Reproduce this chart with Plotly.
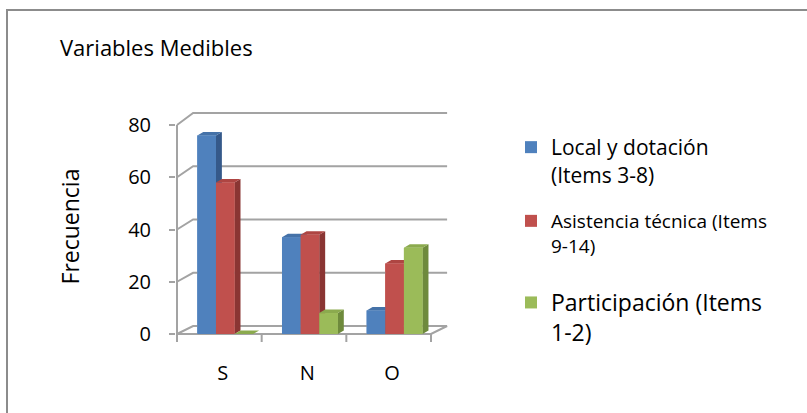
import plotly.graph_objects as go

# ---------------- data ----------------
categories = ["S", "N", "O"]
series_names = [
    "Local y dotación<br>(Items 3-8)",
    "Asistencia técnica (Items<br>9-14)",
    "Participación (Items<br>1-2)",
]
local_dotacion = [76, 37, 9]
asistencia_tecnica = [58, 38, 27]
participacion = [0, 8, 33]
y_ticks = [0, 20, 40, 60, 80]

series_values = [local_dotacion, asistencia_tecnica, participacion]

# ---------------- style ----------------
FONT = "Open Sans"
colors_front = ["#4F81BD", "#C0504D", "#9BBB59"]
colors_side = ["#35598A", "#8A3533", "#6E8A3C"]
colors_top = ["#4572A8", "#AE4542", "#8BAA4E"]
GRID = "#a3a3a3"

# geometry (pixel layout of the 807x413 canvas)
W_PX, H_PX = 807, 413
PL, PT, PR, PB = 176, 110, 450, 343      # plot area edges in px
PX_PER_X = 84.67                         # px per category unit
PX_PER_Y = 2.6125                        # px per value unit
FRONT_LEFT_PX = 177
FLOOR_PX = 334

x_min = -0.5 - (FRONT_LEFT_PX - PL) / PX_PER_X
x_max = -0.5 + (PR - FRONT_LEFT_PX) / PX_PER_X
y_min = -(PB - FLOOR_PX) / PX_PER_Y
y_max = (FLOOR_PX - PT) / PX_PER_Y

BAR_W = 0.22
GROUP_SHIFT = 0.07
SIDE_DX = 0.07
SIDE_DY = 1.35
WALL_DX = 0.19
TICK_DOWN = 8 / PX_PER_Y


def back_y(y):
    return 3.06 + 1.019 * y


def px_to_paper_x(px):
    return (px - PL) / (PR - PL)


def px_to_paper_y(py):
    return (PB - py) / (PB - PT)


fig = go.Figure()

# front faces as bars (main data encoding + legend)
legend_ids = ["legend", "legend2", "legend3"]
for j, (name, vals) in enumerate(zip(series_names, series_values)):
    xs = [i + GROUP_SHIFT + (j - 1) * BAR_W for i in range(len(categories))]
    fig.add_trace(go.Bar(
        x=xs, y=vals, width=BAR_W, name=name,
        marker=dict(color=colors_front[j], line=dict(width=0)),
        legend=legend_ids[j], hoverinfo="skip",
    ))

# walls / gridlines
gx, gy = [], []
xl_f, xr_f = -0.5, len(categories) - 0.5
for t in y_ticks:
    gx += [xl_f, xl_f + WALL_DX, xr_f + WALL_DX, None]
    gy += [t, back_y(t), back_y(t), None]
# front floor + right diagonal
gx += [xl_f, xr_f, xr_f + WALL_DX, None]
gy += [0, 0, back_y(0), None]
# front vertical axis
gx += [xl_f, xl_f, None]
gy += [0, y_ticks[-1], None]
# category boundary ticks
for k in range(len(categories) + 1):
    xb = -0.5 + k
    gx += [xb, xb, None]
    gy += [0, -TICK_DOWN, None]
fig.add_trace(go.Scatter(x=gx, y=gy, mode="lines",
                         line=dict(color=GRID, width=2),
                         showlegend=False, hoverinfo="skip"))


def poly(pts, color):
    xs = [p[0] for p in pts] + [pts[0][0]]
    ys = [p[1] for p in pts] + [pts[0][1]]
    fig.add_trace(go.Scatter(x=xs, y=ys, mode="lines", fill="toself",
                             fillcolor=color, line=dict(width=0, color=color),
                             showlegend=False, hoverinfo="skip"))


# 3-D faces, painted left to right
for i in range(len(categories)):
    for j, vals in enumerate(series_values):
        v = vals[i]
        xc = i + GROUP_SHIFT + (j - 1) * BAR_W
        xl, xr = xc - BAR_W / 2, xc + BAR_W / 2
        poly([(xr, 0), (xr + SIDE_DX, SIDE_DY), (xr + SIDE_DX, v + SIDE_DY), (xr, v)], colors_side[j])
        poly([(xl, v), (xl + SIDE_DX, v + SIDE_DY), (xr + SIDE_DX, v + SIDE_DY), (xr, v)], colors_top[j])
        poly([(xl, 0), (xr, 0), (xr, v), (xl, v)], colors_front[j])

# chart border
fig.add_shape(type="rect", xref="paper", yref="paper",
              x0=px_to_paper_x(7), x1=px_to_paper_x(830),
              y0=px_to_paper_y(440), y1=px_to_paper_y(10),
              line=dict(color="#8c8c8c", width=2), fillcolor="rgba(0,0,0,0)")

legend_common = dict(xref="container", yref="container", xanchor="left", yanchor="top",
                     valign="top", bgcolor="rgba(0,0,0,0)", itemwidth=30,
                     traceorder="normal")

fig.update_layout(
    width=W_PX, height=H_PX,
    margin=dict(l=PL, r=W_PX - PR, t=PT, b=H_PX - PB, pad=0),
    paper_bgcolor="white", plot_bgcolor="white",
    barmode="overlay",
    font=dict(family=FONT, color="#000000"),
    title=dict(text="Variables Medibles", x=60 / W_PX, xanchor="left",
               y=1 - 48 / H_PX, yanchor="middle", xref="container", yref="container",
               font=dict(size=22, family=FONT, color="#000000")),
    xaxis=dict(range=[x_min, x_max], showgrid=False, zeroline=False, showline=False,
               tickvals=[i + 0.04 for i in range(len(categories))], ticktext=categories,
               ticks="", tickfont=dict(size=20, family=FONT, color="#000000"),
               ticklabelstandoff=16),
    yaxis=dict(range=[y_min, y_max], showgrid=False, zeroline=False, showline=False,
               tickvals=y_ticks, ticks="outside", ticklen=6, tickwidth=2, tickcolor=GRID,
               tickfont=dict(size=20, family=FONT, color="#000000"),
               ticklabelstandoff=14,
               title=dict(text="Frecuencia", standoff=42,
                          font=dict(size=23, family=FONT, color="#000000"))),
    legend=dict(**legend_common, x=511 / W_PX, y=1 - 127 / H_PX,
                font=dict(size=21, family=FONT, color="#000000")),
    legend2=dict(**legend_common, x=511 / W_PX, y=1 - 202 / H_PX,
                 font=dict(size=19, family=FONT, color="#000000")),
    legend3=dict(**legend_common, x=511 / W_PX, y=1 - 281 / H_PX,
                 font=dict(size=23, family=FONT, color="#000000")),
)

fig.write_html("out.html", config={"displayModeBar": False},
               post_script="document.body.style.margin='0px';")
